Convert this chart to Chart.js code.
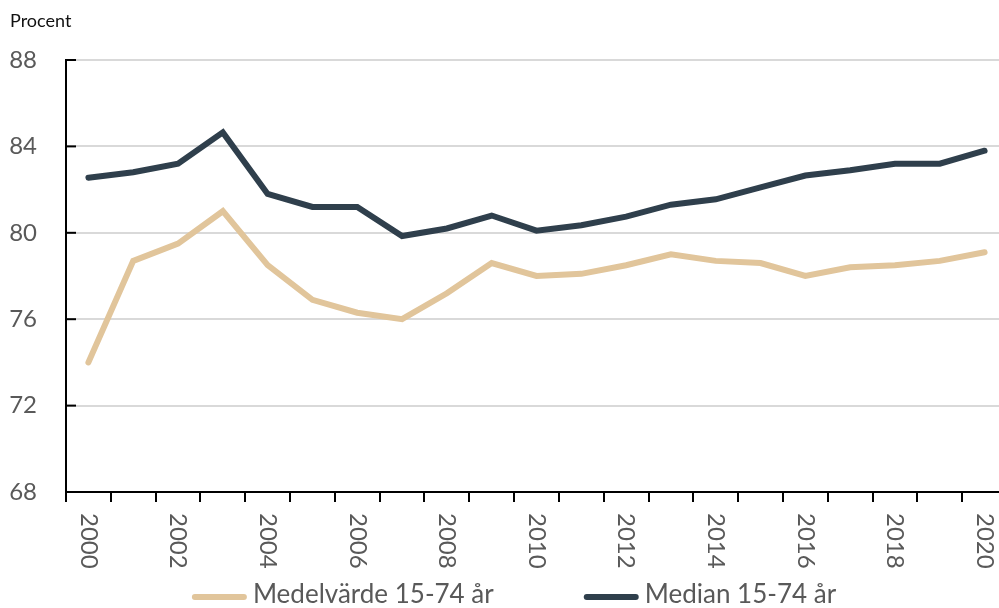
<!DOCTYPE html>
<html><head><meta charset="utf-8">
<script src="https://cdn.jsdelivr.net/npm/chart.js@4/dist/chart.umd.min.js"></script>
<style>html,body{margin:0;padding:0;overflow:hidden;background:#fff;}#wrap{width:1008px;height:608px;}</style>
</head><body><div id="wrap"><canvas id="c" width="1008" height="608"></canvas></div>
<script>
const years = ['2000','2001','2002','2003','2004','2005','2006','2007','2008','2009','2010','2011','2012','2013','2014','2015','2016','2017','2018','2019','2020'];
const medelvarde = [74.0,78.7,79.5,81.0,78.5,76.9,76.3,76.0,77.2,78.6,78.0,78.1,78.5,79.0,78.7,78.6,78.0,78.4,78.5,78.7,79.1];
const median = [82.55,82.8,83.2,84.65,81.8,81.2,81.2,79.85,80.2,80.8,80.1,80.35,80.75,81.3,81.55,82.1,82.65,82.9,83.2,83.2,83.8];
const yTicks = [68,72,76,80,84,88];
const seriesNames = ['Medelvärde 15-74 år','Median 15-74 år'];
const colors = ['#e1c59b','#2f3f4c'];
const FONT = 'Lato, "Open Sans", sans-serif';

const deco = {
  id:'deco',
  afterDraw(chart){
    const ctx = chart.ctx, ys = chart.scales.y, xs = chart.scales.x, ca = chart.chartArea;
    ctx.save();
    // inward y ticks
    ctx.strokeStyle = '#000'; ctx.lineWidth = 2;
    yTicks.forEach(v => {
      const y = ys.getPixelForValue(v);
      ctx.beginPath(); ctx.moveTo(ca.left, y); ctx.lineTo(ca.left + 10, y); ctx.stroke();
    });
    // x labels rotated clockwise
    ctx.fillStyle = '#595959';
    ctx.font = '24px ' + FONT;
    ctx.textAlign = 'left'; ctx.textBaseline = 'middle';
    years.forEach((yr, i) => {
      if (i % 2) return;
      const x = xs.getPixelForValue(i);
      ctx.save(); ctx.translate(x, ca.bottom + 21); ctx.rotate(Math.PI / 2);
      ctx.fillText(yr, 0, 0); ctx.restore();
    });
    // title
    ctx.fillStyle = '#111'; ctx.font = '18px ' + FONT; ctx.textBaseline = 'alphabetic';
    ctx.fillText('Procent', 10, 27);
    // legend
    ctx.font = '26px ' + FONT; ctx.textBaseline = 'alphabetic';
    const sw = 55, gap = 6, itemGap = 90, ly = 597;
    const w0 = ctx.measureText(seriesNames[0]).width, w1 = ctx.measureText(seriesNames[1]).width;
    const total = sw + gap + w0 + itemGap + sw + gap + w1;
    let lx = 514 - total / 2;
    chart.data.datasets.forEach((ds, k) => {
      ctx.strokeStyle = ds.borderColor; ctx.lineWidth = 6; ctx.lineCap = 'round';
      ctx.beginPath(); ctx.moveTo(lx + 3, ly); ctx.lineTo(lx + sw - 3, ly); ctx.stroke();
      ctx.fillStyle = '#595959';
      ctx.fillText(ds.label, lx + sw + gap, 603);
      lx += sw + gap + (k === 0 ? w0 : w1) + itemGap;
    });
    ctx.restore();
  }
};

new Chart(document.getElementById('c'), {
  type:'line',
  data:{
    labels: years,
    datasets:[
      {label: seriesNames[0], data: medelvarde, borderColor: colors[0], backgroundColor: colors[0], borderWidth:6, pointRadius:0, tension:0, borderCapStyle:'round', borderJoinStyle:'miter'},
      {label: seriesNames[1], data: median, borderColor: colors[1], backgroundColor: colors[1], borderWidth:6, pointRadius:0, tension:0, borderCapStyle:'round', borderJoinStyle:'miter'}
    ]
  },
  options:{
    responsive:false, devicePixelRatio:1, animation:false,
    layout:{padding:{top:60, right:1, left:0, bottom:0}},
    plugins:{legend:{display:false}, tooltip:{enabled:false}},
    scales:{
      x:{
        offset:true,
        grid:{offset:true, drawOnChartArea:false, drawTicks:true, tickLength:10, color:'#000', lineWidth:2},
        border:{display:true, color:'#000', width:2},
        ticks:{display:false},
        afterFit: s => { s.height = 116; }
      },
      y:{
        min:68, max:88,
        afterBuildTicks: s => { s.ticks = yTicks.map(v => ({value:v})); },
        afterFit: s => { s.width = 66; },
        grid:{color:'#d9d9d9', lineWidth:2, drawTicks:false},
        border:{display:true, color:'#000', width:2},
        ticks:{padding:29, color:'#595959', font:{family:FONT, size:24}}
      }
    }
  },
  plugins:[deco]
});
</script>
</body></html>
